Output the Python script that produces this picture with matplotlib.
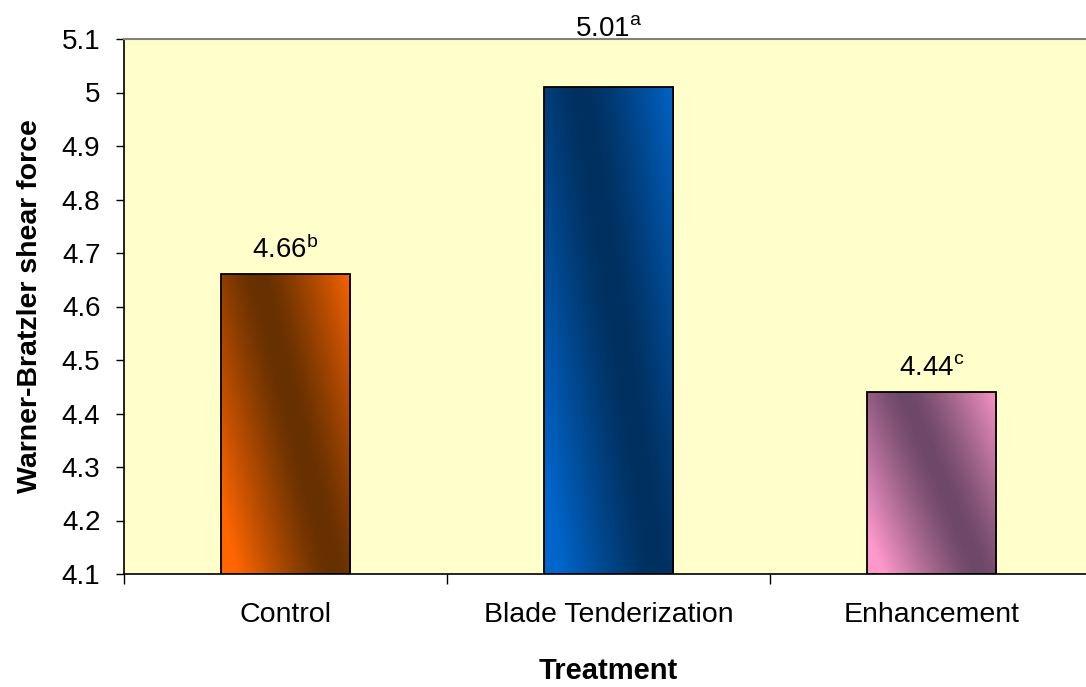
import numpy as np
import matplotlib
matplotlib.use("Agg")
import matplotlib.pyplot as plt
from matplotlib.colors import to_rgb

# Mean Warner-Bratzler shear force by treatment
treatments = ["Control", "Blade Tenderization", "Enhancement"]
shear_force = [4.66, 5.01, 4.44]
significance = ["b", "a", "c"]

y_ticks = [4.1, 4.2, 4.3, 4.4, 4.5, 4.6, 4.7, 4.8, 4.9, 5.0, 5.1]
y_tick_labels = ["4.1", "4.2", "4.3", "4.4", "4.5", "4.6", "4.7", "4.8", "4.9", "5", "5.1"]

# Two-tone diagonal fills for each bar
light_colors = ["#FF6600", "#0066CC", "#FF99CC"]
dark_colors = ["#663000", "#00305F", "#6E4868"]
label_offsets = [12, 37, 12]  # points above bar top

plt.rcParams["font.family"] = ["Liberation Sans", "DejaVu Sans"]
plt.rcParams["mathtext.fontset"] = "custom"
plt.rcParams["mathtext.rm"] = "Liberation Sans"
plt.rcParams["mathtext.it"] = "Liberation Sans"
plt.rcParams["mathtext.bf"] = "Liberation Sans:bold"

W, H = 1086, 687
fig = plt.figure(figsize=(W / 100, H / 100), dpi=100, facecolor="white")
ax = fig.add_axes([124 / W, (H - 574) / H, 969 / W, 535 / H])
ax.set_facecolor("#FFFFCC")

ymin, ymax = 4.1, 5.1
x = np.arange(len(treatments)) + 0.5
bar_w = 0.4


def diagonal_fill(light, dark, nx=60, ny=400):
    s = np.linspace(0, 1, nx)
    t = np.linspace(0, 1, ny)
    S, T = np.meshgrid(s, t)
    u = S + 0.6 * T - 0.88
    soft = 0.08
    r = np.clip((np.sqrt(u ** 2 + soft ** 2) - soft) / 0.68, 0, 1)
    w = r ** 1.15
    lo = np.array(to_rgb(dark))
    hi = np.array(to_rgb(light))
    return lo + (hi - lo) * w[..., None]


bars = ax.bar(x, [v - ymin for v in shear_force], bottom=ymin, width=bar_w,
              facecolor="none", edgecolor="black", linewidth=1.3, zorder=3)

for xi, v, bar, lc, dc in zip(x, shear_force, bars, light_colors, dark_colors):
    img = ax.imshow(diagonal_fill(lc, dc), origin="lower", aspect="auto",
                    extent=(xi - bar_w / 2, xi + bar_w / 2, ymin, v),
                    interpolation="bilinear", zorder=2)
    img.set_clip_path(bar)

for xi, v, sig, off in zip(x, shear_force, significance, label_offsets):
    ax.annotate(f"{v:.2f}$^{{\\mathrm{{{sig}}}}}$", xy=(xi, v), xytext=(0, off),
                textcoords="offset points", ha="center", va="baseline",
                fontsize=20, annotation_clip=False)

ax.set_xlim(0, 3)
ax.set_ylim(ymin, ymax)

ax.set_yticks(y_ticks)
ax.set_yticklabels(y_tick_labels)
ax.tick_params(axis="y", direction="out", length=6, width=1, pad=11,
               labelsize=20, colors="black")

ax.set_xticks([0, 1, 2, 3])
ax.set_xticklabels([])
ax.set_xticks(x, minor=True)
ax.set_xticklabels(treatments, minor=True)
ax.tick_params(axis="x", which="major", direction="out", length=7, width=1)
ax.tick_params(axis="x", which="minor", length=0, pad=20, labelsize=20.5)

ax.set_xlabel("Treatment", fontsize=21, fontweight="bold", va="center")
ax.xaxis.set_label_coords(0.5, -(671 - 574) / 535)
ax.set_ylabel("Warner-Bratzler shear force", fontsize=20.5, fontweight="bold", va="center")
ax.yaxis.set_label_coords(-(124 - 30) / 969, 0.5)

for side in ["left", "bottom"]:
    ax.spines[side].set_color("black")
    ax.spines[side].set_linewidth(1.2)
ax.spines["top"].set_color("#808080")
ax.spines["top"].set_linewidth(1.5)
ax.spines["right"].set_color("#808080")

fig.savefig("out.png", dpi=100, facecolor="white")
